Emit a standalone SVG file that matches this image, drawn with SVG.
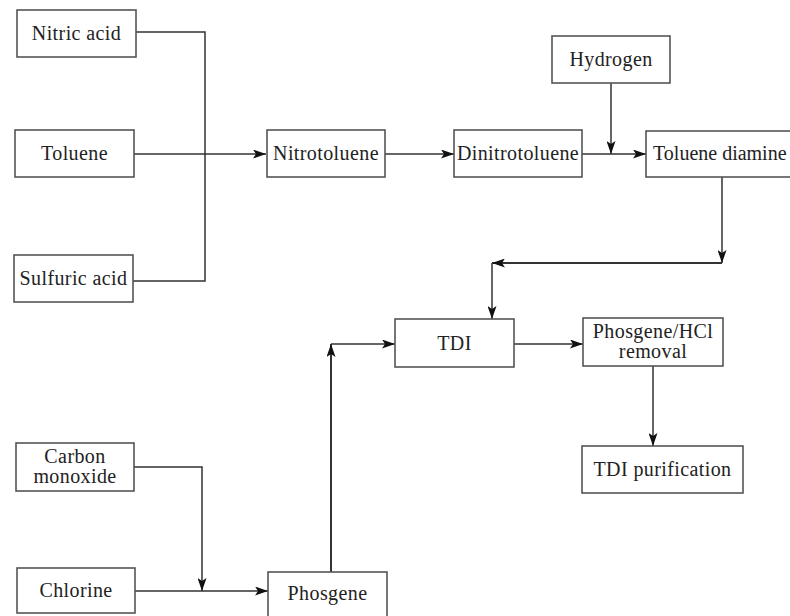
<svg xmlns="http://www.w3.org/2000/svg" width="790" height="616" viewBox="0 0 790 616">
<style>
.box{fill:#fff;stroke:#555;stroke-width:1.6}
.lbl{font-family:"Liberation Serif","Times New Roman",serif;font-size:20px;letter-spacing:0.4px;fill:#222;text-anchor:middle}
.ln{fill:none;stroke:#333;stroke-width:1.5}
</style>
<defs>
<marker id="ah" viewBox="0 0 13 9" refX="13" refY="4.5" markerWidth="13" markerHeight="9" markerUnits="userSpaceOnUse" orient="auto">
<path d="M0,0 L13,4.5 L0,9 L3,4.5 Z" fill="#111"/>
</marker>
</defs>
<rect width="790" height="616" fill="#fff"/>
<g id="connectors">
<path class="ln" d="M136 32 H205 V281 H133"/>
<path class="ln" d="M134 154 H266" marker-end="url(#ah)"/>
<path class="ln" d="M385 154 H454" marker-end="url(#ah)"/>
<path class="ln" d="M582 154 H646" marker-end="url(#ah)"/>
<path class="ln" d="M611 83 V154" marker-end="url(#ah)"/>
<path class="ln" d="M722 177 V263" marker-end="url(#ah)"/>
<path class="ln" d="M722 263 H492" marker-end="url(#ah)" style="stroke-width:2"/>
<path class="ln" d="M492 263 V319" marker-end="url(#ah)"/>
<path class="ln" d="M331 572 V344" marker-end="url(#ah)" style="stroke-width:2"/>
<path class="ln" d="M331 344 H395" marker-end="url(#ah)"/>
<path class="ln" d="M514 344 H583" marker-end="url(#ah)"/>
<path class="ln" d="M653 366 V446" marker-end="url(#ah)"/>
<path class="ln" d="M134 467 H202 V591" marker-end="url(#ah)"/>
<path class="ln" d="M135 591 H268" marker-end="url(#ah)"/>
</g>
<g id="nitric-acid"><rect class="box" x="17" y="10" width="119" height="47"/><text class="lbl" x="76.5" y="40">Nitric acid</text></g>
<g id="toluene"><rect class="box" x="15" y="130" width="119" height="47"/><text class="lbl" x="74.5" y="160">Toluene</text></g>
<g id="sulfuric-acid"><rect class="box" x="14" y="255" width="119" height="47"/><text class="lbl" x="73.5" y="285">Sulfuric acid</text></g>
<g id="nitrotoluene"><rect class="box" x="267" y="130" width="118" height="47"/><text class="lbl" x="326" y="160">Nitrotoluene</text></g>
<g id="dinitrotoluene"><rect class="box" x="454" y="130" width="128" height="47"/><text class="lbl" x="518" y="160">Dinitrotoluene</text></g>
<g id="hydrogen"><rect class="box" x="552" y="36" width="118" height="47"/><text class="lbl" x="611" y="66">Hydrogen</text></g>
<g id="toluene-diamine"><rect class="box" x="646" y="131" width="152" height="46"/><text class="lbl" x="653" y="160" style="text-anchor:start;letter-spacing:0">Toluene diamine</text></g>
<g id="tdi"><rect class="box" x="395" y="319" width="119" height="48"/><text class="lbl" x="454.5" y="350">TDI</text></g>
<g id="phosgene-hcl-removal"><rect class="box" x="583" y="318" width="140" height="48"/><text class="lbl" x="653" y="338">Phosgene/HCl</text><text class="lbl" x="653" y="358">removal</text></g>
<g id="tdi-purification"><rect class="box" x="582" y="446" width="161" height="47"/><text class="lbl" x="662.5" y="476">TDI purification</text></g>
<g id="carbon-monoxide"><rect class="box" x="16" y="443" width="118" height="48"/><text class="lbl" x="75" y="463">Carbon</text><text class="lbl" x="75" y="483">monoxide</text></g>
<g id="chlorine"><rect class="box" x="17" y="568" width="118" height="45"/><text class="lbl" x="76" y="597">Chlorine</text></g>
<g id="phosgene"><rect class="box" x="268" y="572" width="119" height="50"/><text class="lbl" x="327.5" y="600">Phosgene</text></g>
</svg>
